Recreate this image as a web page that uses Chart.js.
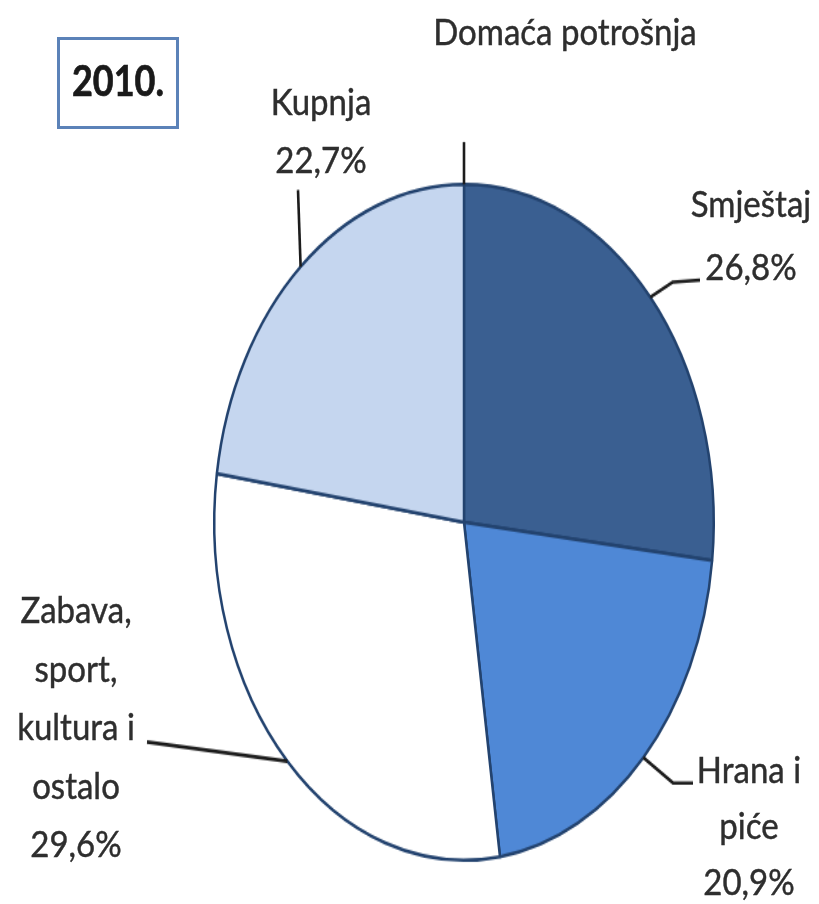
<!DOCTYPE html>
<html>
<head>
<meta charset="utf-8">
<script src="https://cdn.jsdelivr.net/npm/chart.js@4"></script>
<style>
  html, body { margin: 0; padding: 0; background: #fff; }
  #page { position: relative; width: 819px; height: 904px; overflow: hidden; font-family: Lato, "Open Sans", sans-serif; color: #2e2e2e; }
  #wrap { position: absolute; left: 0; top: 0; width: 819px; height: 668px; transform: scaleY(1.353); transform-origin: 0 0; }
  .lbl { position: absolute; font-size: 33px; line-height: 33px; white-space: nowrap; transform: translateX(-50%) scaleY(1.1); transform-origin: 50% 100%; -webkit-text-stroke: 0.4px #2e2e2e; }
  #yearBox { position: absolute; left: 57px; top: 37px; width: 116px; height: 86px; border: 3px solid #5b82b8; }
</style>
</head>
<body>
<div id="page">
  <div id="wrap"><canvas id="pie" width="819" height="668"></canvas></div>
  <div id="yearBox"></div>
  <div id="labels"></div>
</div>
<script>
// data
const title = "Domaća potrošnja";
const yearLabel = "2010.";
const categories = ["Smještaj", "Hrana i piće", "Zabava, sport, kultura i ostalo", "Kupnja"];
const shares = [26.8, 20.9, 29.6, 22.7];
const colors = ["#3a5f91", "#4f88d6", "#ffffff", "#c5d6ef"];

// label lines as they wrap in the picture
const labelLines = [
  ["Smještaj", "26,8%"],
  ["Hrana i", "piće", "20,9%"],
  ["Zabava,", "sport,", "kultura i", "ostalo", "29,6%"],
  ["Kupnja", "22,7%"]
];

const SY = 1.353; // vertical stretch of the pie

// label placement (page px): centre x, first baseline, line step
const labelPos = [
  { x: 751, y: 217, step: 63 },
  { x: 749, y: 783, step: 56 },
  { x: 76, y: 623, step: 58.5 },
  { x: 321, y: 115, step: 58 }
];
// where the leader line ends near the text (page px), with optional elbow
const leaderEnds = [
  [[673, 282], [700, 280]],
  [[673, 783], [693, 783]],
  [[147, 742]],
  [[298, 190]]
];

// ---------- TEXT ----------
const labelsDiv = document.getElementById("labels");
function addText(txt, cx, baseline, extra) {
  const d = document.createElement("div");
  d.className = "lbl";
  d.textContent = txt;
  d.style.left = cx + "px";
  d.style.top = (baseline - 29) + "px";
  if (extra) Object.assign(d.style, extra);
  labelsDiv.appendChild(d);
}
addText(title, 565, 45);
addText(yearLabel, 118, 97, { fontWeight: "bold", fontSize: "36px", lineHeight: "36px", top: (97 - 32) + "px", transform: "translateX(-50%) scaleY(1.15)", color: "#1a1a1a", webkitTextStroke: "0.6px #1a1a1a" });
labelLines.forEach((lines, i) => {
  lines.forEach((t, j) => addText(t, labelPos[i].x, labelPos[i].y + j * labelPos[i].step));
});

// ---------- LEADER LINES ----------
const leaders = {
  id: "leaders",
  afterDatasetsDraw(chart) {
    const ctx = chart.ctx;
    const arcs = chart.getDatasetMeta(0).data;
    ctx.save();
    ctx.strokeStyle = "#1c1c1c";
    ctx.lineWidth = 2.6;
    ctx.lineJoin = "round";
    arcs.forEach((arc, i) => {
      const p = arc.getProps(["x", "y", "startAngle", "endAngle", "outerRadius"], true);
      const mid = (p.startAngle + p.endAngle) / 2;
      ctx.beginPath();
      ctx.moveTo(p.x + Math.cos(mid) * p.outerRadius, p.y + Math.sin(mid) * p.outerRadius);
      leaderEnds[i].forEach(pt => ctx.lineTo(pt[0], pt[1] / SY));
      ctx.stroke();
    });
    // short tick above the top of the pie
    const a0 = arcs[0].getProps(["x", "y", "startAngle", "outerRadius"], true);
    ctx.beginPath();
    ctx.moveTo(a0.x, a0.y - a0.outerRadius);
    ctx.lineTo(a0.x, 142 / SY);
    ctx.stroke();
    ctx.restore();
  }
};

// ---------- PIE ----------
new Chart(document.getElementById("pie"), {
  type: "pie",
  data: {
    labels: categories,
    datasets: [{
      data: shares,
      backgroundColor: colors,
      borderColor: "#23436f",
      borderWidth: 2.5,
      hoverOffset: 0
    }]
  },
  options: {
    responsive: false,
    animation: false,
    layout: { padding: { left: 213, right: 104, top: 135, bottom: 31 } },
    plugins: { legend: { display: false }, tooltip: { enabled: false } }
  },
  plugins: [leaders]
});
</script>
</body>
</html>
